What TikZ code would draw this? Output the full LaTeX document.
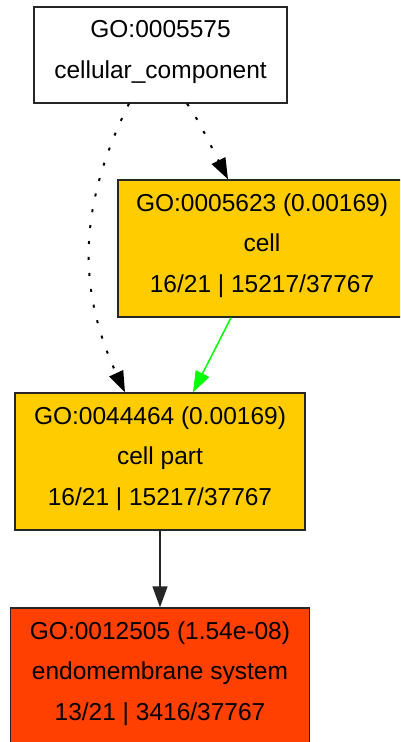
\documentclass[tikz,border=0pt]{standalone}
\usepackage{fontspec}
\setmainfont{Liberation Sans}
\usetikzlibrary{arrows.meta}
\definecolor{goyellow}{RGB}{255,204,0}
\definecolor{gored}{RGB}{255,64,0}
\definecolor{gogreen}{RGB}{0,255,0}
\newcommand{\lowpad}{\rule[-11pt]{0pt}{0pt}}
\tikzset{
  gobox/.style={draw=black!85, line width=1.4pt, rectangle, inner sep=0pt, align=center,
    font=\fontsize{24.5}{40.5}\selectfont},
  goedge/.style={line width=1.5pt, -{Triangle[length=21pt,width=15pt]}},
  godotted/.style={goedge, line width=2pt, dash pattern=on 3pt off 13pt},
}
\begin{document}
\begin{tikzpicture}[x=1pt,y=1pt]
\clip (0,0) rectangle (400,742);
\useasboundingbox (0,0) rectangle (400,742);
\fill[white] (0,0) rectangle (400,742);
\node[gobox, fill=white, minimum width=253pt, minimum height=96pt] (A) at (160.5,687)
  {GO:0005575\\cellular\_component\lowpad};
\node[gobox, fill=goyellow, minimum width=288pt, minimum height=137pt] (B) at (262,493.5)
  {GO:0005623 (0.00169)\\cell\\16/21 | 15217/37767\lowpad};
\node[gobox, fill=goyellow, minimum width=290pt, minimum height=137pt] (C) at (160,280.5)
  {GO:0044464 (0.00169)\\cell part\\16/21 | 15217/37767\lowpad};
\node[gobox, fill=gored, minimum width=299pt, minimum height=137pt] (D) at (160,65.5)
  {GO:0012505 (1.54e-08)\\endomembrane system\\13/21 | 3416/37767\lowpad};
\draw[godotted] ([xshift=26.5pt]A.south) .. controls (195,628) and (205,608) .. ([xshift=-34pt]B.north);
\draw[godotted] ([xshift=-31.5pt]A.south) .. controls (77.5,535) and (77.6,452) .. ([xshift=-35pt]C.north);
\draw[goedge, draw=gogreen, fill=gogreen] ([xshift=-31pt]B.south) -- ([xshift=33pt]C.north);
\draw[goedge, draw=black!85] (C.south) -- (D.north);
\end{tikzpicture}
\end{document}
